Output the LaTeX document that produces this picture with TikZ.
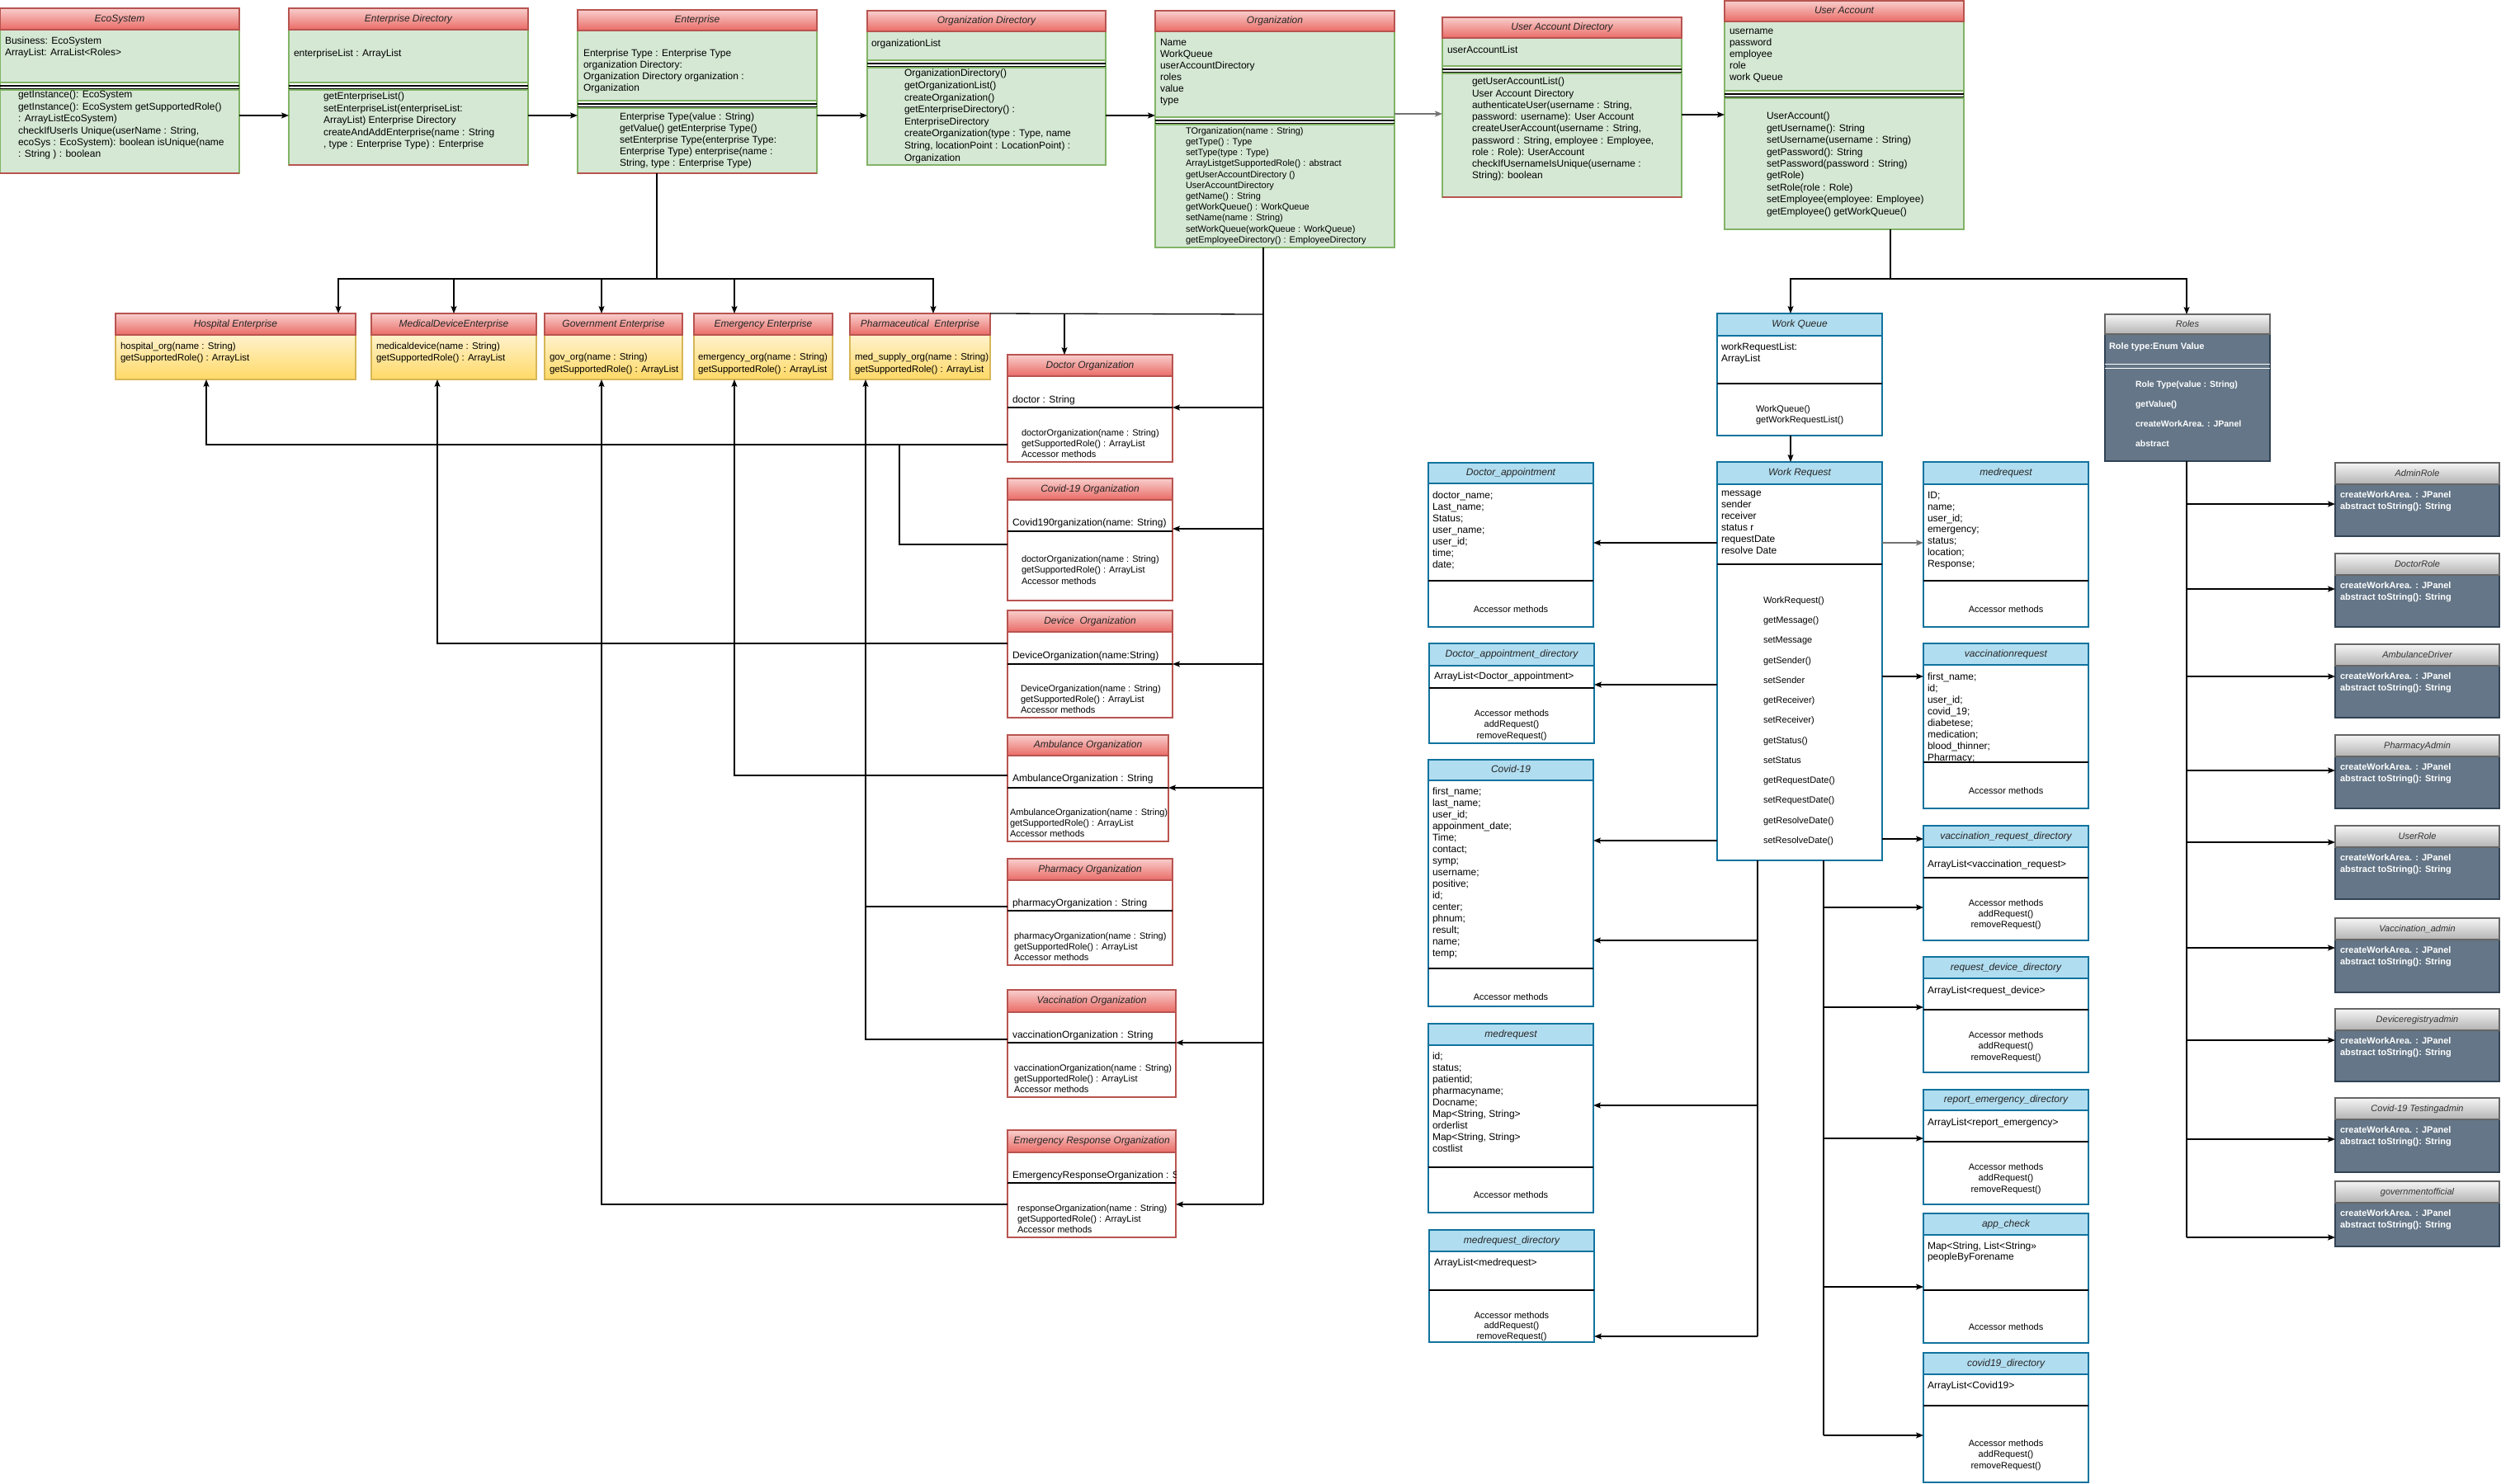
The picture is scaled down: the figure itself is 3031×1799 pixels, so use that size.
\documentclass[tikz,border=0pt]{standalone}
\usepackage{fontspec}
\setmainfont{Liberation Sans}
\usetikzlibrary{arrows.meta,shadings,fit}
\definecolor{redtop}{HTML}{F8CECC}
\definecolor{redbot}{HTML}{EA6B66}
\definecolor{redln}{HTML}{B85450}
\definecolor{grnfill}{HTML}{D5E8D4}
\definecolor{grnln}{HTML}{82B366}
\definecolor{yeltop}{HTML}{FFF2CC}
\definecolor{yelbot}{HTML}{FFD966}
\definecolor{yelln}{HTML}{D6B656}
\definecolor{bluefill}{HTML}{B1DDF0}
\definecolor{blueln}{HTML}{10739E}
\definecolor{slate}{HTML}{647687}
\definecolor{slateln}{HTML}{314354}
\definecolor{graytop}{HTML}{F5F5F5}
\definecolor{graybot}{HTML}{B3B3B3}
\definecolor{grayln}{HTML}{666666}
\newcommand\fstrut{\rule{0pt}{9pt}}
\tikzset{
  fitbox/.style={inner sep=0pt, outer sep=0pt, draw=none},
  ln/.style={line width=1.3pt, draw=black},
  arr/.style={ln, -{Stealth[length=9pt,width=7pt,inset=2pt]}},
  garr/.style={arr, draw=black!55, line width=2pt},
  rhdr/.style={top color=redtop, bottom color=redbot, draw=redln, line width=1.2pt},
  gbody/.style={fill=grnfill, draw=grnln, line width=1.2pt},
  ybody/.style={top color=yeltop, bottom color=yelbot, draw=yelln, line width=1.2pt},
  rwbody/.style={fill=white, draw=redln, line width=1.2pt},
  bhdr/.style={fill=bluefill, draw=blueln, line width=1.2pt},
  bwbody/.style={fill=white, draw=blueln, line width=1.2pt},
  slbody/.style={fill=slate, draw=slateln, line width=1.2pt},
  ghdr/.style={top color=graytop, bottom color=graybot, draw=grayln, line width=1.2pt},
  sepln/.style={draw=black, line width=1.2pt},
  ttl/.style={inner sep=0pt, font=\fontsize{12}{14}\selectfont\itshape, text=black!85, text height=8.5pt, text depth=2.5pt},
  rttl/.style={ttl, font=\fontsize{11}{13}\selectfont\itshape, text=black!80},
  txt/.style={anchor=north west, inner sep=0pt, outer sep=0pt, align=left, yshift=4.7pt, font=\fontsize{12}{14}\selectfont, execute at begin node=\fstrut},
  ctxt/.style={txt, anchor=north, align=center, font=\fontsize{11}{13.5}\selectfont},
  wtxt/.style={txt, text=white, font=\fontsize{11}{14}\selectfont\bfseries},
}
\newcommand\redgreen[8]{%
  \path (#2,#3) coordinate (#1-nw) (#4,#5) coordinate (#1-se);
  \node[fitbox, fit=(#1-nw)(#1-se)] (#1) {};
  \draw[gbody] (#2,#6) rectangle (#4,#5);
  \fill[white] (#2+0.7,#7) rectangle (#4-0.7,#7+9);
  \draw[grnln, line width=1.2pt] (#2,#7) -- (#4,#7) (#2,#7+9) -- (#4,#7+9);
  \draw[sepln] (#2,#7+4) -- (#4,#7+4) (#2,#7+7.5) -- (#4,#7+7.5);
  \draw[rhdr] (#2,#3) rectangle (#4,#6);
  \node[ttl] (#1-h) at ({(#2+#4)/2},{(#3+#6)/2}) {#8};
}
\newcommand\yelbox[7]{%
  \path (#2,#3) coordinate (#1-nw) (#4,#5) coordinate (#1-se);
  \node[fitbox, fit=(#1-nw)(#1-se)] (#1) {};
  \draw[ybody] (#2,#6) rectangle (#4,#5);
  \draw[rhdr] (#2,#3) rectangle (#4,#6);
  \node[ttl] (#1-h) at ({(#2+#4)/2},{(#3+#6)/2}) {#7};
}
\newcommand\redwhite[8]{%
  \path (#2,#3) coordinate (#1-nw) (#4,#5) coordinate (#1-se);
  \node[fitbox, fit=(#1-nw)(#1-se)] (#1) {};
  \draw[rwbody] (#2,#6) rectangle (#4,#5);
  \draw[sepln] (#2,#7) -- (#4,#7);
  \draw[rhdr] (#2,#3) rectangle (#4,#6);
  \node[ttl] (#1-h) at ({(#2+#4)/2},{(#3+#6)/2}) {#8};
}
\newcommand\bluebox[8]{%
  \path (#2,#3) coordinate (#1-nw) (#4,#5) coordinate (#1-se);
  \node[fitbox, fit=(#1-nw)(#1-se)] (#1) {};
  \draw[bwbody] (#2,#6) rectangle (#4,#5);
  \draw[sepln] (#2,#7) -- (#4,#7);
  \draw[bhdr] (#2,#3) rectangle (#4,#6);
  \node[ttl] (#1-h) at ({(#2+#4)/2},{(#3+#6)/2}) {#8};
}
\newcommand\rolebox[4]{%
  \path (2830,#2) coordinate (#1-nw) (3029,#3) coordinate (#1-se);
  \node[fitbox, fit=(#1-nw)(#1-se)] (#1) {};
  \draw[slbody] (2830,#2+26) rectangle (3029,#3);
  \draw[ghdr] (2830,#2) rectangle (3029,#2+26);
  \node[rttl] (#1-h) at (2929.5,#2+13) {#4};
  \node[wtxt] (#1-t) at (2836,#2+39) {createWorkArea. : JPanel\\abstract toString(): String};
}
\begin{document}
\begin{tikzpicture}[x=1pt,y=-1pt]
\useasboundingbox (0,0) rectangle (3031,1799);
\fill[white] (0,0) rectangle (3031,1799);

% ---------- top row ----------
\redgreen{eco}{0}{10}{290}{210}{36}{100}{EcoSystem}
\redgreen{ed}{350}{10}{640}{200}{36}{100}{Enterprise Directory}
\redgreen{ent}{700}{12}{990}{210}{37}{122}{Enterprise}
\redgreen{od}{1051}{13}{1340}{200}{38}{73}{Organization Directory}
\redgreen{org}{1400}{13}{1690}{300}{38}{142}{Organization}
\redgreen{uad}{1748}{21}{2038}{239}{46}{80}{User Account Directory}
\redgreen{ua}{2090}{1}{2380}{278}{26}{110}{User Account}
\foreach \b in {eco,ed,ent,uad}{\draw[redln, line width=1.2pt] (\b.south west) -- (\b.south east);}

\node[txt] (eco-a) at (6,50) {Business: EcoSystem\\ArrayList: ArraList<Roles>};
\node[txt, font=\fontsize{12}{14.4}\selectfont] (eco-m) at (22,115) {getInstance(): EcoSystem\\getInstance(): EcoSystem getSupportedRole()\\: ArrayListEcoSystem)\\checkIfUserIs Unique(userName : String,\\ecoSys : EcoSystem): boolean isUnique(name\\: String ) : boolean};
\node[txt] (ed-a) at (356,64) {enterpriseList : ArrayList};
\node[txt, font=\fontsize{12}{14.5}\selectfont] (ed-m) at (392,117) {getEnterpriseList()\\setEnterpriseList(enterpriseList:\\ArrayList) Enterprise Directory\\createAndAddEnterprise(name : String\\, type : Enterprise Type) : Enterprise};
\node[txt] (ent-a) at (707,65) {Enterprise Type : Enterprise Type\\organization Directory:\\Organization Directory organization :\\Organization};
\node[txt] (ent-m) at (751,142) {Enterprise Type(value : String)\\getValue() getEnterprise Type()\\setEnterprise Type(enterprise Type:\\Enterprise Type) enterprise(name :\\String, type : Enterprise Type)};
\node[txt] (od-a) at (1056,52) {organizationList};
\node[txt, font=\fontsize{12}{14.6}\selectfont] (od-m) at (1096,89) {OrganizationDirectory()\\getOrganizationList()\\createOrganization()\\getEnterpriseDirectory() :\\EnterpriseDirectory\\createOrganization(type : Type, name\\String, locationPoint : LocationPoint) :\\Organization};
\node[txt] (org-a) at (1406,52) {Name\\WorkQueue\\userAccountDirectory\\roles\\value\\type};
\node[txt, font=\fontsize{11}{13.2}\selectfont] (org-m) at (1437,159) {TOrganization(name : String)\\getType() : Type\\setType(type : Type)\\ArrayListgetSupportedRole() : abstract\\getUserAccountDirectory ()\\UserAccountDirectory\\getName() : String\\getWorkQueue() : WorkQueue\\setName(name : String)\\setWorkQueue(workQueue : WorkQueue)\\getEmployeeDirectory() : EmployeeDirectory};
\node[txt] (uad-a) at (1754,60) {userAccountList};
\node[txt, font=\fontsize{12}{14.25}\selectfont] (uad-m) at (1784,99) {getUserAccountList()\\User Account Directory\\authenticateUser(username : String,\\password: username): User Account\\createUserAccount(username : String,\\password : String, employee : Employee,\\role : Role): UserAccount\\checkIfUsernameIsUnique(username :\\String): boolean};
\node[txt] (ua-a) at (2096,40) {username\\password\\employee\\role\\work Queue};
\node[txt, font=\fontsize{12}{14.4}\selectfont] (ua-m) at (2141,141) {UserAccount()\\getUsername(): String\\setUsername(username : String)\\getPassword(): String\\setPassword(password : String)\\getRole)\\setRole(role : Role)\\setEmployee(employee: Employee)\\getEmployee() getWorkQueue()};

% ---------- enterprises ----------
\yelbox{hosp}{140}{380}{431}{460}{406}{Hospital Enterprise}
\yelbox{medd}{450}{380}{650}{460}{406}{MedicalDeviceEnterprise}
\yelbox{gov}{660}{380}{827}{460}{406}{Government Enterprise}
\yelbox{emer}{841}{380}{1009}{460}{406}{Emergency Enterprise}
\yelbox{pharm}{1030}{380}{1200}{460}{406}{Pharmaceutical~ Enterprise}
\node[txt, font=\fontsize{11.5}{14}\selectfont] (hosp-t) at (146,420) {hospital\_org(name : String)\\getSupportedRole() : ArrayList};
\node[txt, font=\fontsize{11.5}{14}\selectfont] (medd-t) at (456,420) {medicaldevice(name : String)\\getSupportedRole() : ArrayList};
\node[txt, font=\fontsize{11.5}{15}\selectfont] (gov-t) at (666,433) {gov\_org(name : String)\\getSupportedRole() : ArrayList};
\begin{scope}
\clip (841,406) rectangle (1009,460);
\node[txt, font=\fontsize{11.5}{15}\selectfont] (emer-t) at (846,433) {emergency\_org(name : String)\\getSupportedRole() : ArrayList};
\end{scope}
\begin{scope}
\clip (1030,406) rectangle (1200,460);
\node[txt, font=\fontsize{11.5}{15}\selectfont] (pharm-t) at (1036,433) {med\_supply\_org(name : String)\\getSupportedRole() : ArrayList};
\end{scope}

% ---------- organizations ----------
\redwhite{docorg}{1221}{430}{1421}{560}{456}{494}{Doctor Organization}
\redwhite{covorg}{1221}{580}{1421}{728}{606}{644}{Covid-19 Organization}
\redwhite{devorg}{1221}{740}{1421}{870}{766}{805}{Device~ Organization}
\redwhite{ambo}{1221}{891}{1416}{1020}{916}{955}{Ambulance Organization}
\redwhite{pharo}{1221}{1041}{1421}{1170}{1067}{1104}{Pharmacy Organization}
\redwhite{vacco}{1221}{1200}{1425}{1330}{1227}{1264}{Vaccination Organization}
\redwhite{ero}{1221}{1370}{1425}{1500}{1397}{1434}{Emergency Response Organization}
\node[txt] (docorg-a) at (1227,484) {doctor : String};
\node[txt, font=\fontsize{11}{13}\selectfont] (docorg-m) at (1238,525) {doctorOrganization(name : String)\\getSupportedRole() : ArrayList\\Accessor methods};
\node[txt] (covorg-a) at (1227,633) {Covid190rganization(name: String)};
\node[txt, font=\fontsize{11}{13.5}\selectfont] (covorg-m) at (1238,678) {doctorOrganization(name : String)\\getSupportedRole() : ArrayList\\Accessor methods};
\node[txt] (devorg-a) at (1227,794) {DeviceOrganization(name:String)};
\node[txt, font=\fontsize{11}{13}\selectfont] (devorg-m) at (1237,835) {DeviceOrganization(name : String)\\getSupportedRole() : ArrayList\\Accessor methods};
\node[txt] (ambo-a) at (1227,943) {AmbulanceOrganization : String};
\node[txt, font=\fontsize{11}{13}\selectfont] (ambo-m) at (1224,985) {AmbulanceOrganization(name : String)\\getSupportedRole() : ArrayList\\Accessor methods};
\node[txt] (pharo-a) at (1227,1094) {pharmacyOrganization : String};
\node[txt, font=\fontsize{11}{13}\selectfont] (pharo-m) at (1229,1135) {pharmacyOrganization(name : String)\\getSupportedRole() : ArrayList\\Accessor methods};
\node[txt] (vacco-a) at (1227,1254) {vaccinationOrganization : String};
\node[txt, font=\fontsize{11}{13}\selectfont] (vacco-m) at (1229,1295) {vaccinationOrganization(name : String)\\getSupportedRole() : ArrayList\\Accessor methods};
\begin{scope}
\clip (1221,1397) rectangle (1425,1434);
\node[txt] (ero-a) at (1227,1424) {EmergencyResponseOrganization : String};
\end{scope}
\node[txt, font=\fontsize{11}{13}\selectfont] (ero-m) at (1233,1465) {responseOrganization(name : String)\\getSupportedRole() : ArrayList\\Accessor methods};

% ---------- blue classes ----------
\bluebox{da}{1731}{561}{1931}{760}{586}{704}{Doctor\_appointment}
\bluebox{dad}{1732}{780}{1932}{901}{807}{834}{Doctor\_appointment\_directory}
\bluebox{cov}{1731}{921}{1931}{1220}{946}{1174}{Covid-19}
\bluebox{mreq}{1731}{1241}{1931}{1470}{1267}{1415}{medrequest}
\bluebox{mrd}{1732}{1491}{1932}{1627}{1517}{1564}{medrequest\_directory}
\bluebox{wq}{2081}{380}{2281}{528}{407}{465}{Work Queue}
\bluebox{wr}{2081}{560}{2281}{1043}{587}{684}{Work Request}
\bluebox{mr2}{2331}{560}{2531}{760}{587}{704}{medrequest}
\bluebox{vr}{2331}{780}{2531}{980}{806}{924}{vaccinationrequest}
\bluebox{vrd}{2331}{1001}{2531}{1140}{1027}{1064}{vaccination\_request\_directory}
\bluebox{rdd}{2331}{1160}{2531}{1300}{1186}{1224}{request\_device\_directory}
\bluebox{repem}{2331}{1321}{2531}{1460}{1346}{1384}{report\_emergency\_directory}
\bluebox{app}{2331}{1471}{2531}{1628}{1497}{1564}{app\_check}
\bluebox{cvd}{2331}{1640}{2531}{1797}{1666}{1704}{covid19\_directory}

\node[txt] (da-a) at (1736,600) {doctor\_name;\\Last\_name;\\Status;\\user\_name;\\user\_id;\\time;\\date;};
\node[ctxt] (da-m) at (1831,738) {Accessor methods};
\node[txt] (dad-a) at (1738,819) {ArrayList<Doctor\_appointment>};
\node[ctxt] (dad-m) at (1832,865) {Accessor methods\\addRequest()\\removeRequest()};
\node[txt] (cov-a) at (1736,959) {first\_name;\\last\_name;\\user\_id;\\appoinment\_date;\\Time;\\contact;\\symp;\\username;\\positive;\\id;\\center;\\phnum;\\result;\\name;\\temp;};
\node[ctxt] (cov-m) at (1831,1208) {Accessor methods};
\node[txt] (mreq-a) at (1736,1280) {id;\\status;\\patientid;\\pharmacyname;\\Docname;\\Map<String, String>\\orderlist\\Map<String, String>\\costlist};
\node[ctxt] (mreq-m) at (1831,1448) {Accessor methods};
\node[txt] (mrd-a) at (1738,1530) {ArrayList<medrequest>};
\node[ctxt, font=\fontsize{11}{12.5}\selectfont] (mrd-m) at (1832,1595) {Accessor methods\\addRequest()\\removeRequest()};

\node[txt] (wq-a) at (2086,420) {workRequestList:\\ArrayList};
\node[txt, font=\fontsize{11}{13}\selectfont] (wq-m) at (2128,496) {WorkQueue()\\getWorkRequestList()};
\node[txt] (wr-a) at (2086,600) {message\\sender\\receiver\\status r\\requestDate\\resolve Date};
\node[txt, font=\fontsize{11}{24.25}\selectfont] (wr-m) at (2137,728) {WorkRequest()\\getMessage()\\setMessage\\getSender()\\setSender\\getReceiver)\\setReceiver)\\getStatus()\\setStatus\\getRequestDate()\\setRequestDate()\\getResolveDate()\\setResolveDate()};

\node[txt, font=\fontsize{12}{13.8}\selectfont] (mr2-a) at (2336,601) {ID;\\name;\\user\_id;\\emergency;\\status;\\location;\\Response;};
\node[ctxt] (mr2-m) at (2431,738) {Accessor methods};
\node[txt, font=\fontsize{12}{14}\selectfont] (vr-a) at (2336,820) {first\_name;\\id;\\user\_id;\\covid\_19;\\diabetese;\\medication;\\blood\_thinner;\\Pharmacy;};
\node[ctxt] (vr-m) at (2431,958) {Accessor methods};
\node[txt] (vrd-a) at (2336,1047) {ArrayList<vaccination\_request>};
\node[ctxt, font=\fontsize{11}{13}\selectfont] (vrd-m) at (2431,1095) {Accessor methods\\addRequest()\\removeRequest()};
\node[txt] (rdd-a) at (2336,1200) {ArrayList<request\_device>};
\node[ctxt] (rdd-m) at (2431,1255) {Accessor methods\\addRequest()\\removeRequest()};
\node[txt] (repem-a) at (2336,1360) {ArrayList<report\_emergency>};
\node[ctxt] (repem-m) at (2431,1415) {Accessor methods\\addRequest()\\removeRequest()};
\node[txt, font=\fontsize{12}{13.5}\selectfont] (app-a) at (2336,1510) {Map<String, List<String>>\\peopleByForename};
\node[ctxt] (app-m) at (2431,1608) {Accessor methods};
\node[txt] (cvd-a) at (2336,1679) {ArrayList<Covid19>};
\node[ctxt] (cvd-m) at (2431,1750) {Accessor methods\\addRequest()\\removeRequest()};

% ---------- roles ----------
\path (2551,381) coordinate (roles-nw) (2751,559) coordinate (roles-se);
\node[fitbox, fit=(roles-nw)(roles-se)] (roles) {};
\draw[slbody] (2551,405) rectangle (2751,559);
\draw[white, line width=1pt] (2551,441) -- (2751,441) (2551,446) -- (2751,446);
\draw[ghdr] (2551,381) rectangle (2751,405);
\node[rttl] (roles-h) at (2651,393) {Roles};
\node[wtxt] (roles-a) at (2556,419) {Role type:Enum Value};
\node[wtxt, font=\fontsize{10.5}{24}\selectfont\bfseries] (roles-m) at (2588,467) {Role Type(value : String)\\getValue()\\createWorkArea. : JPanel\\abstract};

\rolebox{adm}{561}{650}{AdminRole}
\rolebox{docr}{671}{760}{DoctorRole}
\rolebox{ambd}{781}{870}{AmbulanceDriver}
\rolebox{phad}{891}{980}{PharmacyAdmin}
\rolebox{usr}{1001}{1090}{UserRole}
\rolebox{vad}{1113}{1203}{Vaccination\_admin}
\rolebox{dra}{1223}{1311}{Deviceregistryadmin}
\rolebox{ctad}{1331}{1421}{Covid-19 Testingadmin}
\rolebox{gvo}{1432}{1511}{governmentofficial}

% ---------- connectors ----------
\draw[arr] (eco.east |- 0,140) -- (ed.west |- 0,140);
\draw[arr] (ed.east |- 0,140) -- (ent.west |- 0,140);
\draw[arr] (ent.east |- 0,140) -- (od.west |- 0,140);
\draw[arr] (od.east |- 0,140) -- (org.west |- 0,140);
\draw[garr] (org.east |- 0,138) -- (uad.west |- 0,138);
\draw[arr] (uad.east |- 0,139) -- (ua.west |- 0,139);

\coordinate (entj) at (796,338);
\draw[ln] (entj |- ent.south) -- (entj);
\draw[arr] (entj) -| (hosp.north -| 410,0);
\draw[arr] (entj) -| (medd.north -| 550,0);
\draw[arr] (entj) -| (gov.north -| 729,0);
\draw[arr] (entj) -| (emer.north -| 890,0);
\draw[arr] (entj) -| (pharm.north -| 1131,0);

\coordinate (orgbus) at (1531,1460);
\draw[ln] (orgbus |- org.south) -- (orgbus);
\coordinate (dj) at (1290,381);
\draw[ln] (orgbus |- dj) -- (pharm.north east);
\draw[arr] (dj) -- (docorg.north -| dj);
\draw[arr] (orgbus |- 0,494) -- (docorg.east |- 0,494);
\draw[arr] (orgbus |- 0,641) -- (covorg.east |- 0,641);
\draw[arr] (orgbus |- 0,805) -- (devorg.east |- 0,805);
\draw[arr] (orgbus |- 0,955) -- (ambo.east |- 0,955);
\draw[arr] (orgbus |- 0,1264) -- (vacco.east |- 0,1264);
\draw[arr] (orgbus) -- (ero.east |- orgbus);

\draw[arr] (docorg.west |- 0,539) -| (hosp.south -| 250,0);
\draw[ln] (covorg.west |- 0,660) -| (1090,539);
\draw[arr] (devorg.west |- 0,780) -| (medd.south -| 530,0);
\draw[arr] (ambo.west |- 0,940) -| (emer.south -| 890,0);
\draw[arr] (pharo.west |- 0,1099) -| (pharm.south -| 1049,0);
\draw[ln] (vacco.west |- 0,1260) -| (1049,1099);
\draw[arr] (ero.west |- 0,1460) -| (gov.south -| 729,0);

\coordinate (uaj) at (2291,338);
\draw[ln] (uaj |- ua.south) -- (uaj);
\draw[arr] (uaj) -| (wq.north -| 2170,0);
\draw[arr] (uaj) -| (roles.north -| 2650,0);
\draw[arr] (wq.south -| 2170,0) -- (wr.north -| 2170,0);

\draw[arr] (wr.west |- 0,658) -- (da.east |- 0,658);
\draw[arr] (wr.west |- 0,830) -- (dad.east |- 0,830);
\draw[arr] (wr.west |- 0,1019) -- (cov.east |- 0,1019);
\coordinate (wrl) at (2130,1620);
\draw[ln] (wrl |- wr.south) -- (wrl);
\draw[arr] (wrl |- 0,1140) -- (cov.east |- 0,1140);
\draw[arr] (wrl |- 0,1340) -- (mreq.east |- 0,1340);
\draw[arr] (wrl) -- (mrd.east |- wrl);

\draw[garr, line width=1.6pt] (wr.east |- 0,658) -- (mr2.west |- 0,658);
\draw[arr] (wr.east |- 0,820) -- (vr.west |- 0,820);
\draw[arr] (wr.east |- 0,1017) -- (vrd.west |- 0,1017);
\coordinate (wrr) at (2210,1740);
\draw[ln] (wrr |- wr.south) -- (wrr);
\draw[arr] (wrr |- 0,1100) -- (vrd.west |- 0,1100);
\draw[arr] (wrr |- 0,1221) -- (rdd.west |- 0,1221);
\draw[arr] (wrr |- 0,1380) -- (repem.west |- 0,1380);
\draw[arr] (wrr |- 0,1560) -- (app.west |- 0,1560);
\draw[arr] (wrr) -- (cvd.west |- wrr);

\coordinate (rj) at (2650,1500);
\draw[ln] (rj |- roles.south) -- (rj);
\draw[arr] (rj |- 0,611) -- (adm.west |- 0,611);
\draw[arr] (rj |- 0,714) -- (docr.west |- 0,714);
\draw[arr] (rj |- 0,820) -- (ambd.west |- 0,820);
\draw[arr] (rj |- 0,934) -- (phad.west |- 0,934);
\draw[arr] (rj |- 0,1021) -- (usr.west |- 0,1021);
\draw[arr] (rj |- 0,1149) -- (vad.west |- 0,1149);
\draw[arr] (rj |- 0,1261) -- (dra.west |- 0,1261);
\draw[arr] (rj |- 0,1381) -- (ctad.west |- 0,1381);
\draw[arr] (rj) -- (gvo.west |- rj);
\end{tikzpicture}
\end{document}
